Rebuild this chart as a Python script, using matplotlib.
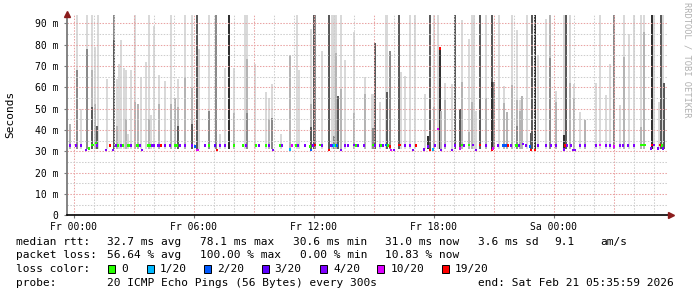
import matplotlib
matplotlib.use("Agg")
import matplotlib.pyplot as plt
from matplotlib.patches import Rectangle

# ---------------- data (hours since Fr 00:00, values in ms) ----------------
bar_hours = [
    -0.2, 0.13, 0.13, 0.37, 0.63, 0.63, 0.88, 0.88, 0.88, 1.07, 1.07, 1.18, 1.13,
    1.63, 2.0, 2.0, 2.13, 2.13, 2.25, 2.37, 2.5, 2.6, 2.6, 2.72, 2.83, 3.07, 3.07,
    3.2, 3.37, 3.62, 3.73, 3.73, 3.87, 4.0, 4.25, 4.25, 4.57, 4.83, 4.83, 5.05,
    5.18, 5.18, 5.18,
    5.55, 5.55, 5.88, 5.88, 5.88, 6.15, 6.25, 6.73, 6.73, 7.12, 7.3, 7.57, 7.75,
    8.0, 8.0, 8.55, 8.65, 8.65, 8.65, 9.07, 9.62, 9.75, 9.75, 9.88, 9.88, 10.33,
    10.8, 11.13, 11.25,
    11.83, 11.83, 11.83, 12.0, 12.07, 12.38, 12.73, 12.88, 12.98, 12.98, 13.1,
    13.1, 13.22, 13.35, 13.35, 13.57, 13.98, 13.98, 14.55, 14.55, 14.88, 14.95,
    14.95, 15.03, 15.3, 15.58, 15.66, 15.66, 15.8, 16.25, 16.35, 16.55, 16.82,
    17.05, 17.55,
    17.7, 17.8, 18.0, 18.0, 18.2, 18.28, 18.37, 18.55, 18.55, 18.88, 19.05, 19.32,
    19.42, 19.42, 19.75, 19.75, 19.88, 19.88, 20.02, 20.12, 20.32, 20.62, 20.62,
    20.88, 20.88, 20.99, 21.24, 21.48, 21.48, 21.64, 21.9, 21.9, 22.15, 22.15,
    22.15, 22.29, 22.29, 22.4, 22.65, 22.83, 22.91, 23.06, 23.22,
    23.62, 23.81, 23.81, 24.12, 24.12, 24.48, 24.48, 24.6, 24.82, 24.82, 24.98,
    24.98, 25.3, 25.55, 26.12, 26.32, 26.62, 26.82, 26.99, 27.3, 27.48, 27.48,
    27.74, 28.02, 28.34, 28.34, 28.51, 28.51, 28.88, 29.01, 29.25, 29.33, 29.45,
    29.52,
]
bar_tops = [
    43, 94, 68, 50, 94, 78, 94, 68, 51, 79, 52, 94, 42,
    64, 94, 82, 64, 42, 71, 82, 69, 68, 45, 38, 68, 94, 53,
    52, 65, 72, 94, 45, 47, 89, 66, 52, 63, 94, 52, 55,
    64, 51, 42,
    94, 65, 94, 59.5, 43, 94, 78, 94, 49, 94, 38, 69, 94,
    69, 48, 94, 94, 73.5, 48, 71, 58, 55, 45, 61.5, 45.5, 38,
    75, 94, 68,
    87.6, 52, 41.5, 94, 94, 77, 94, 94, 94, 37, 94,
    76, 56, 94, 59, 73, 86, 48, 65, 57, 57, 57,
    41, 81, 53, 94, 94, 58, 77, 94, 67, 65.5, 94,
    94, 57,
    37, 94, 94, 51, 94, 78, 49, 62, 54, 61.5, 94, 50,
    91.5, 62.6, 82.5, 39, 94, 53, 94, 49, 94, 94, 55,
    94, 62.6, 62.6, 94, 60.6, 52.5, 48.6, 94, 61, 87, 54,
    42, 54, 49, 56, 94, 38.4, 94, 94, 75,
    92, 94, 74, 58.4, 53, 94, 37.6, 94, 94, 62, 61.5,
    55, 48.6, 44.7, 62, 94, 56.4, 71, 94, 51.7, 94, 74.3,
    85, 94, 94, 41.5, 94, 86, 94, 94, 53, 94, 94,
    62,
]
bar_shades = [
    "M", "L", "G", "L", "L", "G", "L", "M", "D", "L", "M", "L", "D",
    "L", "G", "D", "L", "M", "L", "L", "L", "L", "M", "L", "L", "L", "M",
    "M", "L", "L", "L", "M", "L", "L", "L", "M", "L", "L", "M", "M",
    "L", "M", "D",
    "L", "M", "L", "M", "D", "D", "L", "L", "G", "G", "L", "L", "K",
    "L", "M", "L", "L", "M", "G", "L", "L", "L", "M", "L", "G", "L",
    "M", "L", "L",
    "L", "M", "D", "D", "G", "L", "D", "L", "L", "G", "L",
    "M", "D", "L", "M", "L", "L", "M", "L", "M", "L", "L",
    "G", "D", "L", "L", "L", "D", "G", "D", "L", "L", "L",
    "L", "L",
    "K", "D", "L", "M", "L", "K", "M", "L", "M", "L", "D", "D",
    "L", "M", "L", "M", "L", "M", "L", "L", "D", "L", "M",
    "D", "K", "G", "L", "L", "M", "M", "L", "M", "L", "M",
    "G", "L", "M", "M", "L", "D", "D", "K", "L",
    "L", "M", "G", "L", "M", "L", "K", "D", "L", "M", "L",
    "M", "L", "M", "L", "L", "L", "L", "G", "L", "L", "M",
    "L", "L", "L", "M", "L", "M", "K", "L", "L", "D", "L",
    "D",
]

median_hours = [
    -0.2, 0.12, 0.37, 0.6, 0.75, 0.88, 0.97, 1.08, 1.17, 1.6, 1.8, 1.95, 2.1, 2.2,
    2.37, 2.47, 2.7, 2.78, 2.87, 3.13, 3.22, 3.3, 3.38, 3.7, 3.78, 3.9, 4.0, 4.2,
    4.28, 4.37, 4.53, 4.8, 5.07, 5.15, 5.3, 5.55, 5.88, 6.05, 6.15, 6.22, 6.55,
    6.75, 7.05, 7.15, 7.3, 7.53, 8.0, 8.45, 8.6, 9.1, 9.23, 9.62, 9.73, 9.95,
    10.3, 10.4, 10.8, 10.88, 11.1, 11.2, 11.53, 11.8, 11.87, 11.93, 12.03, 12.3,
    12.38, 12.73, 12.85, 12.93, 13.0, 13.08, 13.17, 13.33, 13.53, 13.7, 13.98,
    14.1, 14.2, 14.52, 14.93, 15.03, 15.3, 15.37, 15.45, 15.62, 15.7, 15.78,
    15.85, 16.0, 16.23, 16.3, 16.55, 16.8, 16.97, 17.12, 17.52, 17.7, 17.8, 17.97,
    18.03, 18.2, 18.3, 18.37, 18.53, 18.88, 19.07, 19.3, 19.4, 19.5, 19.75, 19.95,
    20.1, 20.3, 20.62, 20.88, 20.97, 21.2, 21.45, 21.55, 21.63, 21.72, 21.85,
    22.12, 22.2, 22.25, 22.43, 22.6, 22.8, 22.87, 23.05, 23.2, 23.6, 23.83, 24.12,
    24.48, 24.55, 24.63, 24.83, 24.95, 25.05, 25.3, 25.55, 26.12, 26.3, 26.62,
    26.82, 27.0, 27.3, 27.45, 27.72, 28.02, 28.33, 28.4, 28.48, 28.55, 28.85,
    28.92, 29.0, 29.22, 29.3, 29.38, 29.45,
]
median_ms = [
    32.7, 32.7, 32.7, 30.6, 31.4, 33.0, 33.0, 34.0, 32.7, 30.6, 32.7, 30.6, 32.7, 32.7,
    32.7, 32.7, 32.7, 32.7, 32.7, 32.7, 32.7, 32.7, 30.6, 32.7, 32.7, 32.7, 32.7, 32.7,
    32.7, 32.7, 32.7, 32.7, 32.7, 32.7, 32.7, 32.7, 32.7, 32.2, 30.6, 30.6, 32.7,
    32.7, 32.7, 30.6, 32.7, 32.7, 32.7, 32.7, 32.7, 32.7, 32.7, 32.7, 32.7, 30.6,
    32.7, 32.7, 30.9, 32.7, 32.7, 32.7, 32.7, 32.2, 30.6, 32.7, 33.0, 33.0,
    32.7, 30.6, 32.7, 32.7, 32.7, 32.7, 32.7, 30.6, 32.7, 32.7, 33.0,
    32.7, 32.7, 32.7, 33.0, 32.7, 32.7, 32.7, 32.7, 33.0, 32.7, 32.2,
    30.6, 30.6, 33.0, 33.0, 32.7, 32.7, 30.6, 32.7, 30.9, 32.2, 30.6, 30.9,
    32.7, 40.5, 78.1, 30.6, 32.7, 30.6, 32.7, 31.4, 33.0, 32.7, 33.0, 33.0,
    30.6, 33.0, 32.7, 30.6, 31.4, 32.7, 32.7, 32.7, 32.7, 32.7, 32.7,
    32.7, 32.7, 32.7, 33.4, 32.7, 32.2, 30.6, 30.6, 32.7, 32.7, 32.7, 32.7,
    30.9, 32.7, 32.7, 32.7, 30.6, 30.6, 32.7, 32.7, 32.7, 33.0, 32.7,
    32.7, 32.2, 32.7, 32.7, 32.7, 32.7, 33.0, 33.0, 33.0, 33.0, 31.4,
    33.0, 33.0, 31.4, 33.0, 32.7, 31.4,
]
median_loss = [
    4, 4, 4, 4, 0, 0, 0, 0, 4, 4, 19, 4, 4, 0,
    4, 0, 0, 0, 4, 0, 0, 4, 4, 0, 0, 4, 4, 4,
    4, 19, 4, 4, 0, 0, 4, 4, 4, 2, 10, 10, 4,
    0, 3, 19, 4, 4, 0, 0, 4, 0, 4, 0, 4, 4,
    0, 4, 1, 10, 0, 4, 4, 0, 2, 4, 19, 0,
    4, 19, 4, 2, 1, 0, 2, 4, 4, 4, 4,
    0, 4, 4, 0, 4, 4, 0, 4, 2, 0, 19,
    10, 4, 19, 19, 4, 4, 4, 19, 4, 4, 19, 1,
    4, 10, 19, 4, 4, 4, 4, 10, 0, 4, 0, 4,
    4, 19, 4, 19, 10, 4, 2, 2, 2, 19, 4,
    0, 0, 4, 4, 4, 2, 19, 19, 4, 4, 4, 4,
    4, 19, 4, 4, 4, 4, 4, 4, 4, 10, 4,
    4, 10, 4, 4, 4, 4, 0, 0, 0, 0, 4,
    19, 4, 4, 19, 0, 4,
]

x_tick_hours = [0, 6, 12, 18, 24]
x_tick_labels = ["Fr 00:00", "Fr 06:00", "Fr 12:00", "Fr 18:00", "Sa 00:00"]
y_tick_values = [0, 10, 20, 30, 40, 50, 60, 70, 80, 90]
y_tick_labels = ["0", "10 m", "20 m", "30 m", "40 m", "50 m", "60 m", "70 m", "80 m", "90 m"]

loss_keys = [0, 1, 2, 3, 4, 10, 19]
loss_names = ["0", "1/20", "2/20", "3/20", "4/20", "10/20", "19/20"]
loss_colors = ["#26ff00", "#00b8ff", "#0059ff", "#5e00ff", "#7e00ff", "#dd00ff", "#ff0000"]

# ---------------- figure ----------------
W, H = 697, 297
fig = plt.figure(figsize=(W / 100, H / 100), dpi=100)
fig.patch.set_facecolor("white")
MONO = "DejaVu Sans Mono"

ax_l, ax_r, ax_t, ax_b = 66.7, 668.0, 14.0, 215.3
ax = fig.add_axes([ax_l / W, 1 - ax_b / H, (ax_r - ax_l) / W, (ax_b - ax_t) / H])
ax.set_facecolor("white")
ax.set_xlim(-0.365, 29.7)
ax.set_ylim(0, 94.4)

shade_color = {"L": "#d9d9d9", "M": "#b4b4b4", "G": "#8a8a8a", "D": "#5a5a5a", "K": "#303030"}
shade_rank = {"L": 0, "M": 1, "G": 2, "D": 3, "K": 4}
order = sorted(range(len(bar_hours)), key=lambda i: (-bar_tops[i], shade_rank[bar_shades[i]]))
slot = 1.0 / 12
smoke_floor = 31.0
for i in order:
    ax.bar(bar_hours[i], bar_tops[i] - smoke_floor, bottom=smoke_floor, width=slot * 1.3,
           color=shade_color[bar_shades[i]], linewidth=0, zorder=1)

# grid
grid_kw = dict(linewidth=0.75, dashes=(1.4, 1.4), zorder=2)
for h in range(0, 30):
    major = (h % 3 == 0)
    ax.axvline(h, color="#e9a3a3" if major else "#cdcdcd", **grid_kw)
for v in range(5, 95, 5):
    major = (v % 10 == 0)
    ax.axhline(v, color="#e9a3a3" if major else "#cdcdcd", **grid_kw)

# medians
cmap = dict(zip(loss_keys, loss_colors))
for h, v, l in zip(median_hours, median_ms, median_loss):
    ax.bar(h, 1.2, bottom=v - 0.6, width=slot * 1.3, color=cmap[l], linewidth=0, zorder=3)

# axes styling
for s in ["top", "right"]:
    ax.spines[s].set_visible(False)
ax.spines["left"].set_color("#7a7a7a")
ax.spines["left"].set_linewidth(1.3)
ax.spines["bottom"].set_color("#000000")
ax.spines["bottom"].set_linewidth(1.2)
ax.spines["left"].set_zorder(4)
ax.spines["bottom"].set_zorder(4)

ax.set_xticks(x_tick_hours)
ax.set_xticklabels(x_tick_labels, fontfamily=MONO, fontsize=7)
ax.set_yticks(y_tick_values)
ax.set_yticklabels(y_tick_labels, fontfamily=MONO, fontsize=7)
ax.tick_params(axis="x", length=2, width=0.8, color="#7a7a7a", pad=2.5)
ax.tick_params(axis="y", length=2, width=0.8, color="#7a7a7a", pad=4)

# arrows
ax.plot([0], [1.0], marker="^", markersize=4.5, color="#8b1c1c", transform=ax.transAxes,
        clip_on=False, zorder=5)
ax.plot([1.0045], [0], marker=">", markersize=4.5, color="#8b1c1c", transform=ax.transAxes,
        clip_on=False, zorder=5)

# texts
fig.text(10 / W, 1 - 114 / H, "Seconds", rotation=90, ha="center", va="center",
         fontfamily=MONO, fontsize=8, color="#000000")
fig.text(687.5 / W, 1 - 60 / H, "RRDTOOL / TOBI OETIKER", rotation=270, ha="center",
         va="center", fontfamily=MONO, fontsize=6.3, color="#b0b0b0")

def t(x, y, s):
    fig.text(x / W, 1 - y / H, s, ha="left", va="center", fontfamily=MONO, fontsize=8,
             color="#000000")

r1, r2, r3, r4 = 241.7, 255.3, 269.0, 282.7
t(16, r1, "median rtt:")
t(107.3, r1, "32.7 ms avg")
t(200, r1, "78.1 ms max")
t(293.3, r1, "30.6 ms min")
t(385, r1, "31.0 ms now")
t(478.3, r1, "3.6 ms sd")
t(554, r1, "9.1")
t(600, r1, "am/s")

t(16, r2, "packet loss:")
t(107.3, r2, "56.64 % avg")
t(200, r2, "100.00 % max")
t(300, r2, "0.00 % min")
t(385, r2, "10.83 % now")

t(16, r3, "loss color:")
box_x = [108.3, 146.7, 204.0, 261.7, 320.0, 377.3, 441.7]
for bx, name, col in zip(box_x, loss_names, loss_colors):
    fig.patches.append(Rectangle((bx / W, 1 - (r3 + 4) / H), 7 / W, 8 / H,
                                 transform=fig.transFigure, facecolor=col,
                                 edgecolor="#000000", linewidth=0.7))
    t(bx + 13, r3, name)

t(16, r4, "probe:")
t(107.3, r4, "20 ICMP Echo Pings (56 Bytes) every 300s")
t(478.3, r4, "end: Sat Feb 21 05:35:59 2026")

fig.savefig("out.png", dpi=100, facecolor="white")
